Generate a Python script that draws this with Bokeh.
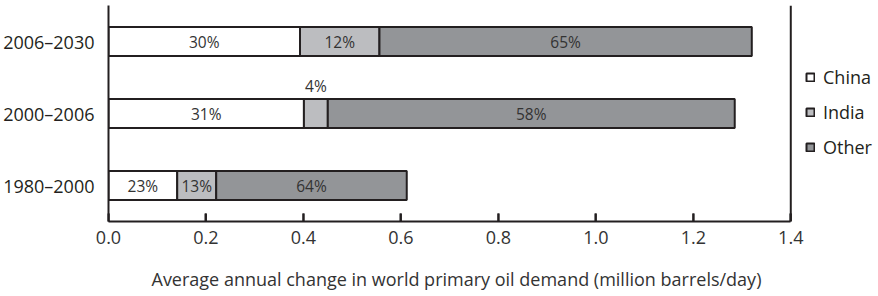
from bokeh.plotting import figure
from bokeh.models import (FactorRange, Range1d, Legend, LegendItem, FixedTicker, ColumnDataSource,
                          Span, PrintfTickFormatter, Title, BoxAnnotation)
from bokeh.core.properties import value
from bokeh.embed import file_html
from bokeh.resources import INLINE

# ---- data ----
periods = ["1980–2000", "2000–2006", "2006–2030"]
china = [0.141, 0.401, 0.393]
india = [0.080, 0.049, 0.163]
other = [0.391, 0.835, 0.764]
china_pct = ["23%", "31%", "30%"]
india_pct = ["13%", "4%", "12%"]
other_pct = ["64%", "58%", "65%"]
series = ["China", "India", "Other"]
colors = ["#ffffff", "#bcbdc0", "#939598"]
x_ticks = [0.0, 0.2, 0.4, 0.6, 0.8, 1.0, 1.2, 1.4]
x_max = 1.4
x_title = "Average annual change in world primary oil demand (million barrels/day)"

FONT = "Open Sans"
TXT = "#333333"
INK = "#231f20"

src = ColumnDataSource(dict(period=periods, China=china, India=india, Other=other))

p = figure(width=878, height=296, output_backend="svg", toolbar_location=None,
           y_range=FactorRange(factors=periods, range_padding=0),
           x_range=Range1d(0, 1.58),
           min_border_left=105, min_border_top=5, min_border_bottom=75, min_border_right=0)

rs = p.hbar_stack(series, y="period", height=0.4, source=src, fill_color=colors,
                  line_color=INK, line_width=2)

# segment labels
in_x, in_y, in_t, up_x, up_y, up_t = [], [], [], [], [], []
for i, per in enumerate(periods):
    left = 0.0
    for vals, labs in ((china, china_pct), (india, india_pct), (other, other_pct)):
        v = vals[i]
        if v < 0.06:
            up_x.append(left + v / 2); up_y.append(per); up_t.append(labs[i])
        else:
            in_x.append(left + v / 2); in_y.append(per); in_t.append(labs[i])
        left += v

p.text(x=in_x, y=in_y, text=in_t, text_align="center", text_baseline="middle",
       text_font=value(FONT), text_font_size="15.5px", text_color=TXT)
p.text(x=up_x, y=up_y, text=up_t, text_align="center", text_baseline="bottom", y_offset=-17,
       text_font=value(FONT), text_font_size="15.5px", text_color=TXT)

# inward tick marks on the x axis: short boxes rising from the frame's bottom edge
half_w = 0.00205
for t in x_ticks:
    p.add_layout(BoxAnnotation(left=t - half_w, right=t + half_w, bottom=0, top=8,
                               bottom_units="screen", top_units="screen",
                               fill_color=INK, fill_alpha=1.0, line_color=None))

p.grid.visible = False
p.outline_line_color = None
p.background_fill_color = None

p.add_layout(Span(location=x_max, dimension="height", line_color=INK, line_width=2))

xa = p.xaxis[0]
xa.ticker = FixedTicker(ticks=x_ticks)
xa.bounds = (0, x_max)
xa.formatter = PrintfTickFormatter(format="%.1f")
xa.axis_line_width = 2
xa.axis_line_color = INK
xa.major_tick_in = 8
xa.major_tick_out = 0
xa.major_tick_line_width = 2
xa.major_tick_line_color = INK
xa.minor_tick_line_color = None
xa.major_label_standoff = 9
xa.major_label_text_font = FONT
xa.major_label_text_font_size = "18px"
xa.major_label_text_color = TXT

p.add_layout(Title(text=x_title, align="left", offset=43, standoff=0,
                   padding=dict(top=18, right=0, bottom=0, left=0),
                   text_font=FONT, text_font_size="18px", text_font_style="normal",
                   text_color=TXT), "below")

ya = p.yaxis[0]
ya.axis_line_width = 2
ya.axis_line_color = INK
ya.major_tick_line_color = None
ya.minor_tick_line_color = None
ya.major_label_standoff = 8
ya.major_label_text_font = FONT
ya.major_label_text_font_size = "18px"
ya.major_label_text_color = INK

legend = Legend(items=[LegendItem(label=s, renderers=[r]) for s, r in zip(series, rs)],
                glyph_width=10, glyph_height=10, label_standoff=8, spacing=11,
                padding=0, margin=0, border_line_color=None, background_fill_alpha=0,
                label_text_font=FONT, label_text_font_size="18px", label_text_color=INK,
                label_height=22, location=(697, 62))
p.add_layout(legend, "center")

open("out.html", "w").write(file_html(p, INLINE))
